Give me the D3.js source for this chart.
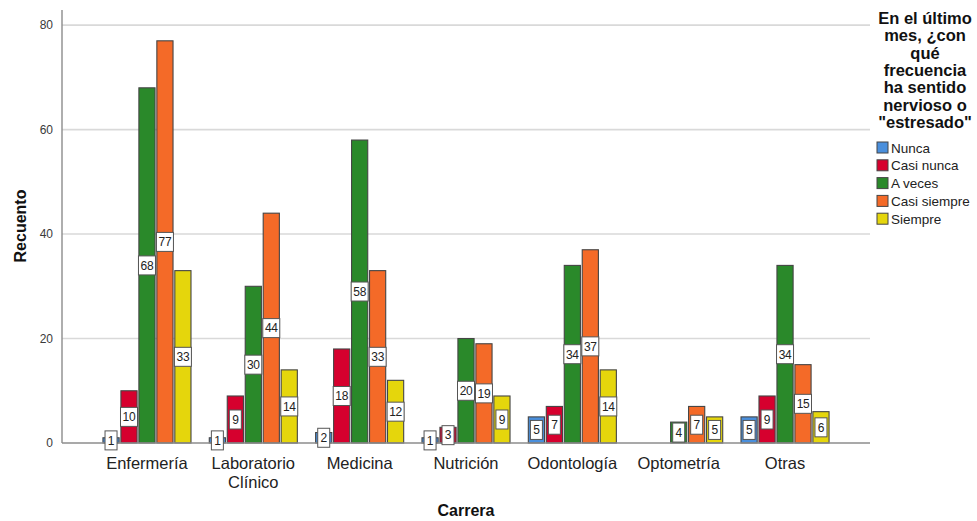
<!DOCTYPE html>
<html>
<head>
<meta charset="utf-8">
<script src="https://cdn.jsdelivr.net/npm/d3@7"></script>
<style>
  html, body { margin: 0; padding: 0; background: #fff; }
  svg { display: block; font-family: Arial, "Liberation Sans", sans-serif; }
</style>
</head>
<body>
<svg id="chart" width="977" height="521"></svg>
<script>
// Careers on the x axis (each entry is a list of label lines)
const carreras = [
  ["Enfermería"],
  ["Laboratorio", "Clínico"],
  ["Medicina"],
  ["Nutrición"],
  ["Odontología"],
  ["Optometría"],
  ["Otras"]
];

// Response categories (legend order)
const respuestas = ["Nunca", "Casi nunca", "A veces", "Casi siempre", "Siempre"];
const colores = ["#4a8fdc", "#d6002e", "#2a892a", "#f46a28", "#e5d60c"];

// Counts per response, one value per career (null = no cases)
const nunca       = [1, 1, 2, 1, 5, null, 5];
const casiNunca   = [10, 9, 18, 3, 7, null, 9];
const aVeces      = [68, 30, 58, 20, 34, 4, 34];
const casiSiempre = [77, 44, 33, 19, 37, 7, 15];
const siempre     = [33, 14, 12, 9, 14, 5, 6];

const yTicks = [0, 20, 40, 60, 80];

const legendTitle = ["En el último", "mes, ¿con", "qué", "frecuencia", "ha sentido", "nervioso o", "\"estresado\""];

const series = [nunca, casiNunca, aVeces, casiSiempre, siempre];

const svg = d3.select("#chart");

const plot = { left: 62, right: 870, top: 10, bottom: 443 };

const x = d3.scaleBand()
  .domain(d3.range(carreras.length))
  .range([plot.left, plot.right])
  .paddingInner(0.172)
  .paddingOuter(0.385);

const xs = d3.scaleBand()
  .domain(d3.range(respuestas.length))
  .range([0, x.bandwidth()])
  .paddingInner(0.1);

const y = d3.scaleLinear()
  .domain([0, 82.9])
  .range([plot.bottom, plot.top]);

// Horizontal gridlines
svg.append("g")
  .selectAll("line")
  .data(yTicks.filter(d => d > 0))
  .join("line")
  .attr("x1", plot.left)
  .attr("x2", plot.right)
  .attr("y1", d => y(d))
  .attr("y2", d => y(d))
  .attr("stroke", "#d9d9d9")
  .attr("stroke-width", 1.6);

// Y axis
const yAxis = svg.append("g")
  .attr("transform", `translate(${plot.left},0)`)
  .call(d3.axisLeft(y).tickValues(yTicks).tickSize(0).tickPadding(9));
yAxis.select(".domain").remove();
yAxis.selectAll("text")
  .attr("fill", "#3a3a3a")
  .style("font-size", "12px")
  .style("font-family", "Arial, 'Liberation Sans', sans-serif");

svg.append("line")
  .attr("x1", plot.left).attr("x2", plot.left)
  .attr("y1", plot.top).attr("y2", plot.bottom)
  .attr("stroke", "#8c8c8c").attr("stroke-width", 1.4);

// Bars
const flat = [];
series.forEach((vals, si) => {
  vals.forEach((v, ci) => {
    if (v != null && v > 0) flat.push({ ci, si, v });
  });
});

svg.append("g")
  .selectAll("rect")
  .data(flat)
  .join("rect")
  .attr("x", d => x(d.ci) + xs(d.si))
  .attr("width", xs.bandwidth())
  .attr("y", d => y(d.v))
  .attr("height", d => y(0) - y(d.v))
  .attr("fill", d => colores[d.si])
  .attr("stroke", "#454545")
  .attr("stroke-width", 1.1);

// X baseline
svg.append("line")
  .attr("x1", plot.left).attr("x2", plot.right)
  .attr("y1", plot.bottom).attr("y2", plot.bottom)
  .attr("stroke", "#8c8c8c").attr("stroke-width", 1.6);

// Value labels at mid-height of each bar
const labels = svg.append("g")
  .selectAll("g")
  .data(flat)
  .join("g")
  .attr("transform", d => `translate(${x(d.ci) + xs(d.si) + xs.bandwidth() / 2},${(y(d.v) + y(0)) / 2})`);

labels.append("rect")
  .attr("x", d => String(d.v).length > 1 ? -8.5 : -6)
  .attr("width", d => String(d.v).length > 1 ? 17 : 12)
  .attr("y", -9.5)
  .attr("height", 19)
  .attr("fill", "#fff")
  .attr("stroke", "#555")
  .attr("stroke-width", 1);

labels.append("text")
  .attr("text-anchor", "middle")
  .attr("dy", "0.36em")
  .attr("fill", "#222")
  .style("font-size", "12px")
  .style("letter-spacing", "-0.3px")
  .text(d => d.v);

// Category labels
const catG = svg.append("g")
  .selectAll("text")
  .data(carreras)
  .join("text")
  .attr("x", (d, i) => x(i) + x.bandwidth() / 2)
  .attr("y", 469)
  .attr("text-anchor", "middle")
  .attr("fill", "#222")
  .style("font-size", "16.5px");
catG.selectAll("tspan")
  .data(d => d)
  .join("tspan")
  .attr("x", function () { return d3.select(this.parentNode).attr("x"); })
  .attr("dy", (d, i) => i === 0 ? 0 : 19)
  .text(d => d);

// Axis titles
svg.append("text")
  .attr("x", 466)
  .attr("y", 516)
  .attr("text-anchor", "middle")
  .style("font-size", "16px")
  .style("font-weight", "bold")
  .attr("fill", "#111")
  .text("Carrera");

svg.append("text")
  .attr("transform", "translate(26,226) rotate(-90)")
  .attr("text-anchor", "middle")
  .style("font-size", "16px")
  .style("font-weight", "bold")
  .attr("fill", "#111")
  .text("Recuento");

// Legend
const lg = svg.append("g");
lg.selectAll("text.title")
  .data(legendTitle)
  .join("text")
  .attr("class", "title")
  .attr("x", 925)
  .attr("y", (d, i) => 24 + i * 17.3)
  .attr("text-anchor", "middle")
  .style("font-size", "16.5px")
  .style("font-weight", "bold")
  .attr("fill", "#111")
  .text(d => d);

const items = lg.selectAll("g.item")
  .data(respuestas)
  .join("g")
  .attr("class", "item")
  .attr("transform", (d, i) => `translate(877,${142 + i * 17.8})`);

items.append("rect")
  .attr("width", 11)
  .attr("height", 11)
  .attr("fill", (d, i) => colores[i])
  .attr("stroke", "#454545")
  .attr("stroke-width", 1);

items.append("text")
  .attr("x", 14)
  .attr("y", 10.5)
  .attr("fill", "#222")
  .style("font-size", "13.5px")
  .text(d => d);
</script>
</body>
</html>
